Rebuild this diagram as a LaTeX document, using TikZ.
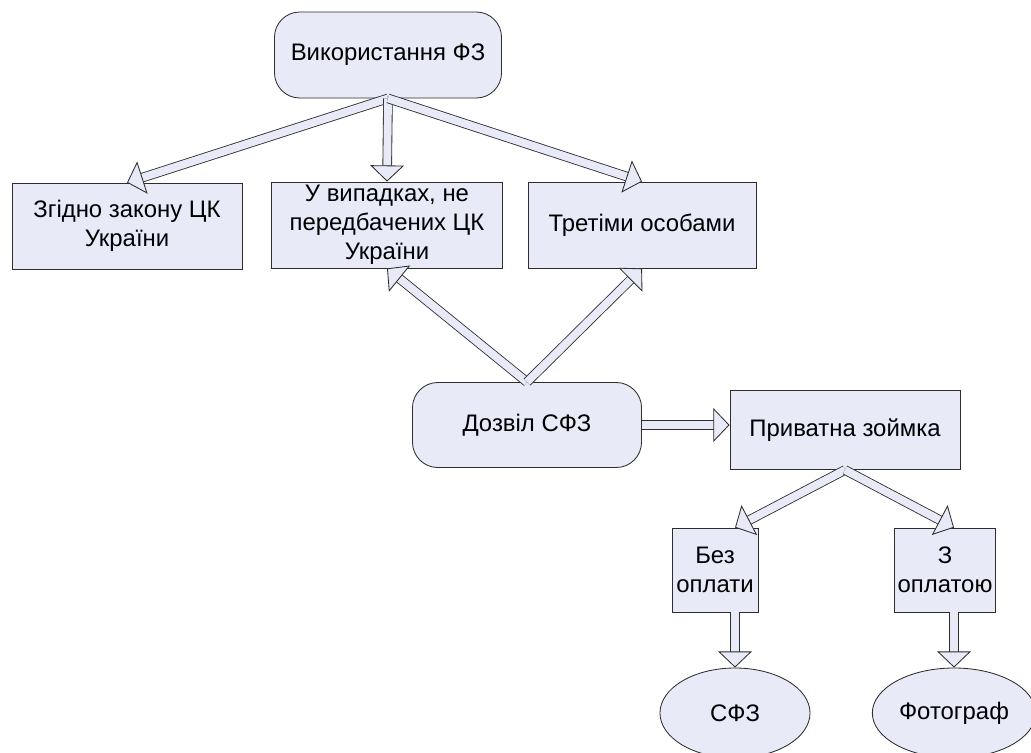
\documentclass[tikz,border=0pt]{standalone}
\usepackage{fontspec}
\setmainfont{Liberation Sans}
\usetikzlibrary{arrows.meta,shapes.geometric,calc}
\definecolor{boxfill}{RGB}{232,235,247}
\definecolor{boxline}{RGB}{45,45,45}
\tikzset{
  box/.style={ % plain rectangle block
    draw=boxline, fill=boxfill, rectangle, line width=0.6pt,
    minimum width=5.75cm, minimum height=2.15cm, inner sep=2pt,
    align=center, text=black, font=\fontsize{17}{20.5}\selectfont
  },
  rbox/.style={ % rounded block
    box, rounded corners=18pt
  },
  ebox/.style={ % oval block
    box, ellipse, minimum width=3.75cm, minimum height=2.25cm
  },
  fat/.style={ % hollow block arrow
    draw=boxline, line width=0.6pt, double=boxfill, double distance=5.6pt,
    -{Triangle[width=24pt,length=11.5pt,fill=boxfill]}
  }
}

\begin{document}
\begin{tikzpicture}[x=0.025cm,y=-0.025cm]
  \useasboundingbox (0,0) rectangle (1031,752);
  \clip (0,0) rectangle (1031,752);

  \node[rbox,minimum width=5.675cm] (use) at (388,55) {Використання ФЗ};
  \node[box] (law) at (127,226) {Згідно закону ЦК\\України};
  \node[box,minimum width=5.775cm] (other) at (387,225) {У випадках, не\\передбачених ЦК\\України};
  \node[box,minimum width=5.7cm] (third) at (642,225) {Третіми особами};
  \node[rbox,minimum width=5.725cm,minimum height=2.125cm] (perm) at (527,425) {Дозвіл СФЗ};
  \node[box,minimum height=1.975cm] (priv) at (845,430) {Приватна зоймка};
  \node[box,minimum width=2.15cm,minimum height=2.1cm] (free) at (715,570) {Без\\оплати};
  \node[box,minimum width=2.175cm,minimum height=2.1cm] (paid) at (945,570) {З\\оплатою};
  \node[ebox] (sfz) at (735,713) {СФЗ};
  \node[ebox,minimum width=3.8cm] (photo) at (954,713) {Фотограф};

  \path (use.south) edge[fat] (law.north)
                    edge[fat] (other.north)
                    edge[fat] (third.north);
  \path (perm.north) edge[fat] (other.south)
                     edge[fat] (third.south);
  \draw[fat] (perm.east) -- (perm.east -| priv.west);
  \path (priv.south) edge[fat] (free.north -| sfz.north)
                     edge[fat] (paid.north -| photo.north);
  \draw[fat] (free.south -| sfz.north) -- (sfz.north);
  \draw[fat] (paid.south -| photo.north) -- (photo.north);
\end{tikzpicture}
\end{document}
